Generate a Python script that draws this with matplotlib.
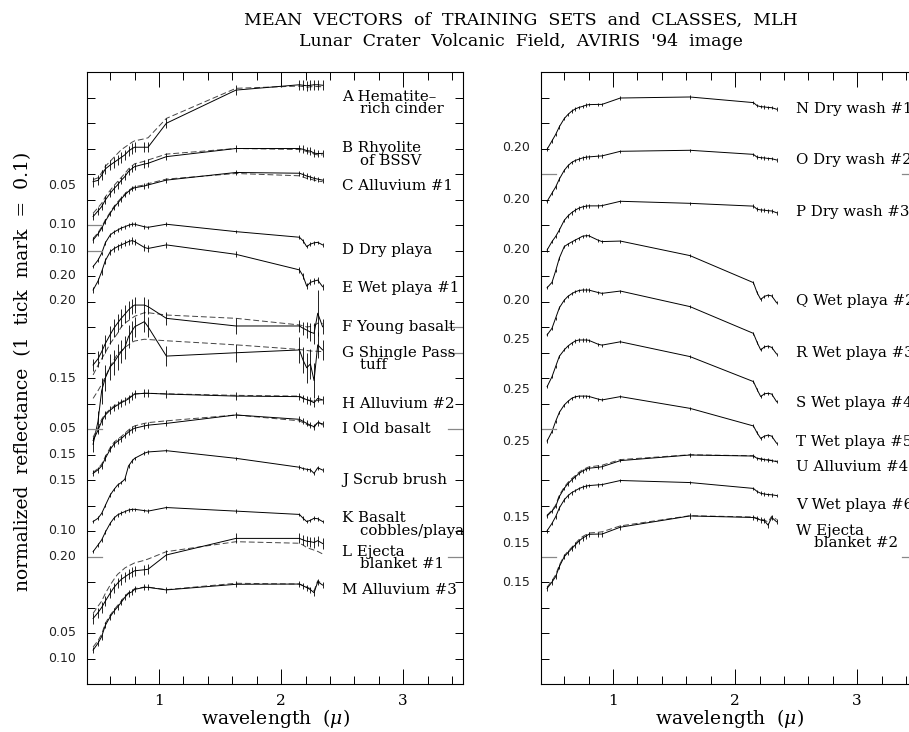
import matplotlib
matplotlib.use("Agg")
import matplotlib.pyplot as plt
from matplotlib.transforms import blended_transform_factory

plt.rcParams["mathtext.fontset"] = "dejavuserif"

# wavelengths (micron) of the plotted bands
W = [0.46, 0.50, 0.53, 0.56, 0.60, 0.63, 0.66, 0.69, 0.72, 0.75, 0.78, 0.80,
     0.88, 0.91, 1.06, 1.63, 2.15, 2.18, 2.21, 2.24, 2.27, 2.30, 2.34]

# plotted (offset) values in tick units; "train" = solid, "cls" = dashed
A_train = [19.70, 19.75, 19.95, 20.20, 20.35, 20.45, 20.55, 20.65, 20.75, 20.90, 21.00, 21.05, 21.05, 21.05, 21.99, 23.29, 23.50, 23.48, 23.46, 23.48, 23.50, 23.50, 23.48]
A_cls = [19.78, 19.85, 20.05, 20.30, 20.50, 20.65, 20.80, 20.95, 21.05, 21.15, 21.25, 21.30, 21.38, 21.42, 22.18, 23.36, 23.45, 23.43, 23.40, 23.42, 23.43, 23.43, 23.42]
B_train = [18.33, 18.55, 18.72, 18.98, 19.24, 19.42, 19.57, 19.75, 19.90, 20.10, 20.22, 20.29, 20.39, 20.42, 20.68, 21.00, 21.00, 20.97, 20.92, 20.90, 20.82, 20.80, 20.81]
B_cls = [18.46, 18.68, 18.85, 19.10, 19.36, 19.54, 19.70, 19.86, 20.02, 20.20, 20.32, 20.40, 20.50, 20.55, 20.78, 21.00, 20.96, 20.93, 20.88, 20.85, 20.78, 20.75, 20.75]
C_train = [17.41, 17.65, 17.87, 18.15, 18.46, 18.68, 18.85, 19.02, 19.18, 19.32, 19.42, 19.46, 19.53, 19.57, 19.76, 20.06, 20.03, 19.98, 19.92, 19.88, 19.83, 19.80, 19.76]
C_cls = [17.47, 17.70, 17.92, 18.20, 18.50, 18.72, 18.90, 19.06, 19.22, 19.36, 19.45, 19.50, 19.57, 19.62, 19.80, 20.02, 19.93, 19.88, 19.83, 19.80, 19.76, 19.72, 19.70]
D_train = [16.37, 16.62, 16.89, 17.30, 17.61, 17.72, 17.80, 17.88, 17.93, 17.99, 18.03, 18.03, 17.93, 17.91, 18.03, 17.74, 17.52, 17.38, 17.15, 17.25, 17.30, 17.32, 17.22]
E_train = [15.45, 15.80, 16.17, 16.60, 16.95, 17.07, 17.15, 17.22, 17.28, 17.35, 17.39, 17.35, 17.12, 17.08, 17.22, 16.85, 16.24, 16.00, 15.60, 15.75, 15.80, 15.84, 15.58]
F_train = [12.51, 12.75, 13.03, 13.35, 13.70, 13.95, 14.15, 14.34, 14.50, 14.67, 14.80, 14.86, 14.86, 14.80, 14.34, 14.04, 14.04, 13.95, 13.88, 13.80, 13.75, 14.54, 14.01]
F_cls = [12.12, 12.50, 12.75, 13.00, 13.35, 13.55, 13.75, 14.00, 14.15, 14.25, 14.35, 14.42, 14.56, 14.56, 14.47, 14.34, 14.08, 14.05, 14.00, 14.02, 14.05, 14.15, 14.14]
G_train = [9.40, 10.30, 11.50, 12.00, 12.44, 12.60, 12.83, 13.03, 13.20, 13.62, 13.85, 14.01, 14.21, 14.01, 12.86, 12.99, 13.10, 12.70, 12.40, 12.55, 11.90, 13.30, 13.10]
G_cls = [11.20, 11.50, 11.75, 12.05, 12.45, 12.70, 12.95, 13.05, 13.20, 13.30, 13.40, 13.45, 13.52, 13.51, 13.46, 13.30, 13.12, 13.10, 13.08, 13.06, 13.05, 13.05, 13.03]
H_train = [9.55, 9.95, 10.30, 10.55, 10.74, 10.85, 10.94, 11.03, 11.10, 11.18, 11.30, 11.37, 11.40, 11.40, 11.37, 11.29, 11.27, 11.20, 11.15, 11.10, 11.03, 11.20, 11.14]
H_cls = [9.68, 10.05, 10.38, 10.60, 10.78, 10.90, 10.98, 11.06, 11.13, 11.22, 11.32, 11.38, 11.40, 11.40, 11.38, 11.32, 11.29, 11.22, 11.15, 11.12, 11.08, 11.12, 11.14]
I_train = [8.26, 8.40, 8.55, 8.85, 9.20, 9.40, 9.52, 9.62, 9.75, 9.88, 9.98, 10.03, 10.12, 10.15, 10.22, 10.55, 10.38, 10.30, 10.22, 10.15, 10.09, 10.25, 10.20]
I_cls = [8.30, 8.45, 8.62, 8.92, 9.27, 9.47, 9.60, 9.70, 9.83, 9.96, 10.06, 10.12, 10.22, 10.25, 10.32, 10.55, 10.32, 10.25, 10.18, 10.12, 10.05, 10.30, 10.15]
J_train = [6.37, 6.50, 6.69, 7.00, 7.41, 7.62, 7.80, 7.90, 8.03, 8.55, 8.75, 8.85, 9.05, 9.10, 9.15, 8.85, 8.50, 8.45, 8.42, 8.40, 8.26, 8.48, 8.39]
K_train = [5.19, 5.45, 5.65, 5.95, 6.30, 6.50, 6.63, 6.70, 6.76, 6.82, 6.85, 6.85, 6.80, 6.78, 6.92, 6.78, 6.65, 6.50, 6.37, 6.42, 6.50, 6.48, 6.37]
L_train = [2.57, 2.80, 3.00, 3.25, 3.56, 3.78, 3.95, 4.10, 4.20, 4.30, 4.38, 4.44, 4.48, 4.50, 5.06, 5.71, 5.71, 5.65, 5.60, 5.58, 5.55, 5.62, 5.51]
L_cls = [2.77, 3.05, 3.25, 3.55, 3.88, 4.10, 4.30, 4.42, 4.55, 4.63, 4.70, 4.75, 4.85, 4.90, 5.19, 5.58, 5.52, 5.45, 5.35, 5.30, 5.25, 5.20, 5.10]
M_train = [1.33, 1.60, 1.86, 2.30, 2.64, 2.85, 3.02, 3.20, 3.40, 3.55, 3.62, 3.71, 3.79, 3.79, 3.69, 3.91, 3.92, 3.85, 3.78, 3.70, 3.58, 4.01, 3.88]
M_cls = [1.45, 1.70, 1.95, 2.38, 2.70, 2.90, 3.08, 3.25, 3.45, 3.58, 3.66, 3.74, 3.80, 3.80, 3.70, 3.95, 3.92, 3.86, 3.80, 3.74, 3.65, 4.05, 3.92]

N_train = [20.97, 21.30, 21.55, 21.85, 22.17, 22.33, 22.46, 22.55, 22.61, 22.65, 22.70, 22.72, 22.73, 22.73, 22.98, 23.02, 22.80, 22.68, 22.64, 22.63, 22.61, 22.60, 22.54]
O_train = [18.93, 19.25, 19.49, 19.80, 20.14, 20.32, 20.45, 20.53, 20.58, 20.63, 20.66, 20.67, 20.70, 20.71, 20.89, 20.93, 20.77, 20.66, 20.64, 20.63, 20.61, 20.60, 20.55]
P_train = [17.02, 17.35, 17.55, 17.80, 18.18, 18.35, 18.48, 18.58, 18.66, 18.71, 18.74, 18.75, 18.75, 18.76, 18.93, 18.85, 18.74, 18.62, 18.59, 18.58, 18.56, 18.55, 18.48]
Q_train = [15.54, 15.75, 16.20, 16.70, 17.15, 17.25, 17.33, 17.41, 17.48, 17.56, 17.58, 17.58, 17.40, 17.35, 17.37, 16.80, 15.74, 15.35, 15.08, 15.20, 15.25, 15.22, 14.95]
R_train = [13.69, 13.95, 14.35, 14.75, 15.05, 15.20, 15.30, 15.38, 15.43, 15.45, 15.45, 15.45, 15.35, 15.32, 15.41, 14.80, 13.75, 13.40, 13.10, 13.22, 13.25, 13.20, 12.94]
S_train = [11.66, 12.05, 12.45, 12.85, 13.10, 13.25, 13.36, 13.45, 13.49, 13.49, 13.49, 13.48, 13.32, 13.29, 13.42, 12.84, 11.86, 11.55, 11.27, 11.38, 11.40, 11.37, 11.07]
T_train = [9.53, 9.90, 10.30, 10.65, 10.94, 11.08, 11.20, 11.26, 11.29, 11.29, 11.29, 11.28, 11.17, 11.14, 11.27, 10.81, 10.12, 9.85, 9.63, 9.72, 9.76, 9.72, 9.44]
U_train = [6.59, 6.78, 6.96, 7.35, 7.67, 7.85, 8.00, 8.12, 8.25, 8.35, 8.42, 8.46, 8.50, 8.52, 8.76, 8.98, 8.94, 8.85, 8.82, 8.80, 8.78, 8.76, 8.72]
U_cls = [6.62, 6.82, 7.01, 7.40, 7.72, 7.90, 8.05, 8.17, 8.30, 8.40, 8.47, 8.51, 8.56, 8.58, 8.80, 8.99, 8.95, 8.86, 8.83, 8.81, 8.79, 8.77, 8.74]
V_train = [6.01, 6.30, 6.56, 6.90, 7.22, 7.38, 7.50, 7.58, 7.66, 7.72, 7.76, 7.78, 7.81, 7.82, 7.98, 7.90, 7.67, 7.55, 7.48, 7.45, 7.43, 7.42, 7.39]
W_train = [3.75, 4.00, 4.21, 4.60, 4.99, 5.15, 5.30, 5.45, 5.60, 5.72, 5.80, 5.87, 5.88, 5.88, 6.15, 6.59, 6.53, 6.48, 6.43, 6.40, 6.23, 6.53, 6.36]
W_cls = [3.80, 4.05, 4.28, 4.66, 5.03, 5.20, 5.35, 5.50, 5.66, 5.78, 5.86, 5.92, 5.95, 5.97, 6.20, 6.60, 6.55, 6.50, 6.45, 6.43, 6.35, 6.58, 6.45]

# error bar half-lengths (tick units)
F_err = [0.25, 0.3, 0.3, 0.35, 0.35, 0.35, 0.35, 0.35, 0.35, 0.35, 0.3, 0.3, 0.3, 0.3, 0.25, 0.3, 0.25, 0.25, 0.3, 0.35, 0.4, 0.9, 0.3]
G_err = [0.3, 0.4, 0.5, 0.5, 0.5, 0.5, 0.5, 0.45, 0.45, 0.45, 0.4, 0.4, 0.4, 0.4, 0.4, 0.35, 0.5, 0.5, 0.6, 0.6, 0.7, 0.5, 0.4]

left_series = [
    (A_train, A_cls, 0.2), (B_train, B_cls, 0.15), (C_train, C_cls, 0.1),
    (D_train, None, 0.07), (E_train, None, 0.12), (F_train, F_cls, F_err),
    (G_train, G_cls, G_err), (H_train, H_cls, 0.15), (I_train, I_cls, 0.12),
    (J_train, None, 0.07), (K_train, None, 0.07), (L_train, L_cls, 0.2),
    (M_train, M_cls, 0.12),
]
right_series = [
    (N_train, None, 0.07), (O_train, None, 0.07), (P_train, None, 0.07),
    (Q_train, None, 0.06), (R_train, None, 0.06), (S_train, None, 0.06),
    (T_train, None, 0.06), (U_train, U_cls, 0.07), (V_train, None, 0.07),
    (W_train, W_cls, 0.1),
]

left_labels = [("A Hematite–", "rich cinder"), ("B Rhyolite", "of BSSV"),
               ("C Alluvium #1", None), ("D Dry playa", None),
               ("E Wet playa #1", None), ("F Young basalt", None),
               ("G Shingle Pass", "tuff"), ("H Alluvium #2", None),
               ("I Old basalt", None), ("J Scrub brush", None),
               ("K Basalt", "cobbles/playa"), ("L Ejecta", "blanket #1"),
               ("M Alluvium #3", None)]
left_label_y = [23.03, 21.01, 19.53, 17.02, 15.52, 14.01, 13.0, 11.0, 10.0,
                8.0, 6.5, 5.19, 3.68]
right_labels = [("N Dry wash #1", None), ("O Dry wash #2", None),
                ("P Dry wash #3", None), ("Q Wet playa #2", None),
                ("R Wet playa #3", None), ("S Wet playa #4", None),
                ("T Wet playa #5", None), ("U Alluvium #4", None),
                ("V Wet playa #6", None), ("W Ejecta", "blanket #2")]
right_label_y = [22.54, 20.55, 18.52, 15.02, 13.0, 11.0, 9.5, 8.5, 7.0, 6.01]

left_ytext = ["0.05", "0.10", "0.10", "0.20", "0.20", "0.15", "0.05", "0.15",
              "0.15", "0.10", "0.20", "0.05", "0.10"]
left_ypos = [19.53, 18.03, 17.02, 16.01, 15.02, 12.0, 10.0, 9.0, 8.0, 6.0,
             5.0, 2.0, 1.0]
right_ytext = ["0.20", "0.20", "0.20", "0.20", "0.25", "0.25", "0.25",
               "0.15", "0.15", "0.15"]
right_ypos = [21.02, 19.01, 17.02, 15.02, 13.52, 11.53, 9.5, 6.52, 5.52, 3.99]

# tick positions that are drawn longer and grey in the reference
left_long_l = [18, 17, 10, 5]
left_long_r = [14, 13, 10, 5]
right_long_l = [20, 10, 5]
right_long_r = [20, 5]

FW, FH = 909, 732
fig = plt.figure(figsize=(FW / 100, FH / 100), dpi=100)

SERIF = "DejaVu Serif"
LBL = 10.8


def make_axes(x0px):
    ax = fig.add_axes([x0px / FW, (FH - 684) / FH, 376 / FW, 612 / FH])
    ax.set_xlim(0.41, 3.49)
    ax.set_ylim(0, 24)
    ax.set_xticks([1, 2, 3])
    ax.set_xticks([0.6, 0.8, 1.2, 1.4, 1.6, 1.8, 2.2, 2.4, 2.6, 2.8, 3.2, 3.4], minor=True)
    ax.set_xticklabels(["1", "2", "3"], fontfamily=SERIF, fontsize=11)
    ax.set_yticks(range(1, 24))
    ax.set_yticklabels([])
    ax.tick_params(axis="x", which="major", direction="in", length=11, width=0.7,
                   top=True, pad=7)
    ax.tick_params(axis="x", which="minor", direction="in", length=5.5, width=0.7,
                   top=True)
    ax.tick_params(axis="y", which="major", direction="in", length=5.8, width=0.7,
                   right=True, left=True)
    for s in ax.spines.values():
        s.set_linewidth(0.8)
    ax.set_xlabel(r"wavelength  ($\mu$)", fontfamily=SERIF, fontsize=13.5, va="center")
    ax.xaxis.set_label_coords(0.5, -34 / 612)
    return ax


def draw(ax, series, labels, label_y, ytext, ypos, long_l, long_r):
    for train, cls, err in series:
        if cls is not None:
            ax.plot(W, cls, color="#444444", lw=0.7, dashes=(6, 3))
        ax.plot(W, train, color="black", lw=0.7)
        errs = err if isinstance(err, list) else [err] * len(W)
        lo = [v - e for v, e in zip(train, errs)]
        hi = [v + e for v, e in zip(train, errs)]
        ax.vlines(W, lo, hi, color="black", lw=0.6)
    for (l1, l2), y in zip(labels, label_y):
        if l2:
            ax.text(2.5, y - 0.245, l1 + "\n\u2002\u2002\u2009" + l2,
                    fontfamily=SERIF, fontsize=LBL, va="center", ha="left",
                    linespacing=0.86, clip_on=False)
        else:
            ax.text(2.5, y, l1, fontfamily=SERIF, fontsize=LBL, va="center",
                    ha="left", clip_on=False)
    tr = blended_transform_factory(ax.transAxes, ax.transData)
    for t, y in zip(ytext, ypos):
        ax.text(-0.029, y, t, transform=tr, ha="right", va="center",
                fontfamily="DejaVu Sans", fontsize=9, color="#222222")
    for y in long_l:
        ax.plot([0, 15 / 376], [y, y], transform=tr, color="#888888", lw=0.9)
    for y in long_r:
        ax.plot([1 - 15 / 376, 1], [y, y], transform=tr, color="#888888", lw=0.9)


axL = make_axes(87)
draw(axL, left_series, left_labels, left_label_y, left_ytext, left_ypos,
     left_long_l, left_long_r)
axR = make_axes(541)
draw(axR, right_series, right_labels, right_label_y, right_ytext, right_ypos,
     right_long_l, right_long_r)

fig.text(23 / FW, 1 - 371 / FH, "normalized  reflectance  (1  tick  mark  =  0.1)",
         rotation=90, ha="center", va="center", fontfamily=SERIF, fontsize=13.5)
fig.text(521 / FW, 1 - 20 / FH, "MEAN  VECTORS  of  TRAINING  SETS  and  CLASSES,  MLH",
         ha="center", va="center", fontfamily=SERIF, fontsize=12.5)
fig.text(521 / FW, 1 - 41 / FH, "Lunar  Crater  Volcanic  Field,  AVIRIS  '94  image",
         ha="center", va="center", fontfamily=SERIF, fontsize=12.5)

fig.savefig("out.png", dpi=100)
